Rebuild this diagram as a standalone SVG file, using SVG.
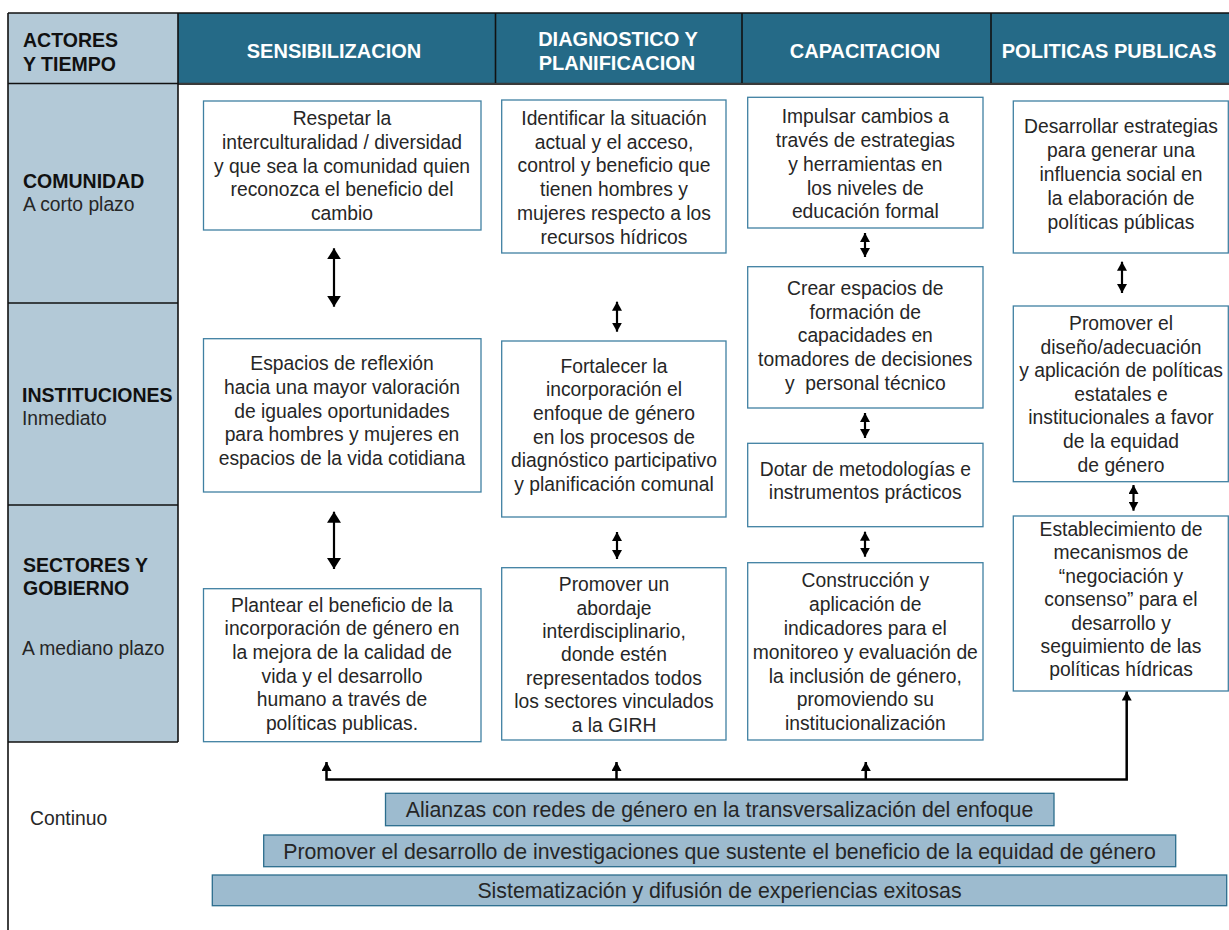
<svg xmlns="http://www.w3.org/2000/svg" width="1229" height="930" viewBox="0 0 1229 930">
<style>
text { font-family: "Liberation Sans", Arial, Helvetica, sans-serif; }
.hdr { font-size: 20px; font-weight: bold; fill: #ffffff; text-anchor: middle; }
.lbl { font-size: 19.5px; font-weight: bold; fill: #111111; }
.sub { font-size: 19.3px; fill: #262626; }
.t { font-size: 19.3px; fill: #262626; text-anchor: middle; }
.bt { font-size: 21.3px; fill: #262626; text-anchor: middle; }
.box { fill: #ffffff; stroke: #3f80a2; stroke-width: 1.3; }
.bar { fill: #9dbbcf; stroke: #2b6d8d; stroke-width: 1.3; }
.grid { stroke: #111111; stroke-width: 1.6; fill: none; }
.arr { stroke: #000000; stroke-width: 2.2; fill: none; }
.sm { marker-start: url(#ahs); marker-end: url(#ahs); }
.lg { marker-start: url(#ahl); marker-end: url(#ahl); }
.con { stroke: #000000; stroke-width: 2.5; fill: none; }
</style>
<defs>
<marker id="ahs" viewBox="0 0 9 10" refX="9" refY="5" markerUnits="userSpaceOnUse" markerWidth="9" markerHeight="10" orient="auto-start-reverse"><path d="M0,0 L9,5 L0,10 z" fill="#000"/></marker>
<marker id="ahl" viewBox="0 0 11 14" refX="11" refY="7" markerUnits="userSpaceOnUse" markerWidth="11" markerHeight="14" orient="auto-start-reverse"><path d="M0,0 L11,7 L0,14 z" fill="#000"/></marker>
</defs>
<rect width="1229" height="930" fill="#ffffff"/>

<g id="frame">
<rect x="8" y="13" width="170" height="729" fill="#b3c9d7"/>
<rect x="178" y="13" width="1051" height="70.5" fill="#256a87"/>
<line x1="178" y1="83.8" x2="1229" y2="83.8" stroke="#3a3a3a" stroke-width="2.2"/>
<line class="grid" x1="8" y1="13" x2="1229" y2="13"/>
<line class="grid" x1="8" y1="13" x2="8" y2="930"/>
<line class="grid" x1="178" y1="13" x2="178" y2="742"/>
<line class="grid" x1="495.5" y1="13" x2="495.5" y2="83"/>
<line class="grid" x1="742" y1="13" x2="742" y2="83"/>
<line class="grid" x1="991" y1="13" x2="991" y2="83"/>
<line class="grid" x1="8" y1="83.5" x2="178" y2="83.5"/>
<line class="grid" x1="8" y1="303" x2="178" y2="303"/>
<line class="grid" x1="8" y1="505" x2="178" y2="505"/>
<line class="grid" x1="8" y1="742" x2="178" y2="742"/>
</g>

<g id="header-actores"><text class="lbl" x="23" y="47">ACTORES</text><text class="lbl" x="23" y="71">Y TIEMPO</text></g>
<g id="header-sensibilizacion"><text class="hdr" x="334" y="58">SENSIBILIZACION</text></g>
<g id="header-diagnostico"><text class="hdr" x="618" y="46">DIAGNOSTICO Y</text><text class="hdr" x="617" y="70">PLANIFICACION</text></g>
<g id="header-capacitacion"><text class="hdr" x="865" y="57.5">CAPACITACION</text></g>
<g id="header-politicas"><text class="hdr" x="1109" y="57.5">POLITICAS PUBLICAS</text></g>

<g id="row-comunidad"><text class="lbl" x="23" y="188">COMUNIDAD</text><text class="sub" x="23" y="211">A corto plazo</text></g>
<g id="row-instituciones"><text class="lbl" x="22" y="401.5">INSTITUCIONES</text><text class="sub" x="22" y="425">Inmediato</text></g>
<g id="row-sectores"><text class="lbl" x="23" y="571.5">SECTORES Y</text><text class="lbl" x="23" y="595">GOBIERNO</text><text class="sub" x="22" y="655">A mediano plazo</text></g>
<g id="row-continuo"><text class="sub" x="30" y="825">Continuo</text></g>

<g id="s1">
<rect class="box" x="203.5" y="101" width="277.5" height="129"/>
<text class="t"><tspan x="342" y="125.3">Respetar la</tspan><tspan x="342" y="149">interculturalidad / diversidad</tspan><tspan x="342" y="172.7">y que sea la comunidad quien</tspan><tspan x="342" y="196.4">reconozca el beneficio del</tspan><tspan x="342" y="220">cambio</tspan></text>
</g>
<g id="s2">
<rect class="box" x="203.5" y="338.7" width="277.5" height="153.3"/>
<text class="t"><tspan x="342" y="370">Espacios de reflexión</tspan><tspan x="342" y="393.75">hacia una mayor valoración</tspan><tspan x="342" y="417.5">de iguales oportunidades</tspan><tspan x="342" y="441.25">para hombres y mujeres en</tspan><tspan x="342" y="465">espacios de la vida cotidiana</tspan></text>
</g>
<g id="s3">
<rect class="box" x="203.5" y="588.7" width="277.5" height="153"/>
<text class="t"><tspan x="342" y="611.7">Plantear el beneficio de la</tspan><tspan x="342" y="635.4">incorporación de género en</tspan><tspan x="342" y="659">la mejora de la calidad de</tspan><tspan x="342" y="682.7">vida y el desarrollo</tspan><tspan x="342" y="706.3">humano a través de</tspan><tspan x="342" y="730">políticas publicas.</tspan></text>
</g>

<g id="d1">
<rect class="box" x="501.7" y="100" width="224.3" height="153"/>
<text class="t"><tspan x="614" y="125">Identificar la situación</tspan><tspan x="614" y="148.7">actual y el acceso,</tspan><tspan x="614" y="172.4">control y beneficio que</tspan><tspan x="614" y="196.1">tienen hombres y</tspan><tspan x="614" y="219.8">mujeres respecto a los</tspan><tspan x="614" y="243.5">recursos hídricos</tspan></text>
</g>
<g id="d2">
<rect class="box" x="501.7" y="341" width="224.3" height="176"/>
<text class="t"><tspan x="614" y="372.7">Fortalecer la</tspan><tspan x="614" y="396.3">incorporación el</tspan><tspan x="614" y="419.9">enfoque de género</tspan><tspan x="614" y="443.5">en los procesos de</tspan><tspan x="614" y="467.1">diagnóstico participativo</tspan><tspan x="614" y="490.7">y planificación comunal</tspan></text>
</g>
<g id="d3">
<rect class="box" x="501.7" y="567.7" width="224.3" height="172.3"/>
<text class="t"><tspan x="614" y="591">Promover un</tspan><tspan x="614" y="614.5">abordaje</tspan><tspan x="614" y="638">interdisciplinario,</tspan><tspan x="614" y="661.4">donde estén</tspan><tspan x="614" y="684.8">representados todos</tspan><tspan x="614" y="708.3">los sectores vinculados</tspan><tspan x="614" y="731.7">a la GIRH</tspan></text>
</g>

<g id="c1">
<rect class="box" x="747.7" y="97.3" width="235.3" height="130.7"/>
<text class="t"><tspan x="865.3" y="123.3">Impulsar cambios a</tspan><tspan x="865.3" y="147">través de estrategias</tspan><tspan x="865.3" y="170.8">y herramientas en</tspan><tspan x="865.3" y="194.5">los niveles de</tspan><tspan x="865.3" y="218.3">educación formal</tspan></text>
</g>
<g id="c2">
<rect class="box" x="747.7" y="266.7" width="235.3" height="141.3"/>
<text class="t"><tspan x="865.3" y="295">Crear espacios de</tspan><tspan x="865.3" y="318.7">formación de</tspan><tspan x="865.3" y="342.4">capacidades en</tspan><tspan x="865.3" y="366">tomadores de decisiones</tspan><tspan x="865.3" y="389.8">y&#160; personal técnico</tspan></text>
</g>
<g id="c3">
<rect class="box" x="747.7" y="443.3" width="235.3" height="83.4"/>
<text class="t"><tspan x="865.3" y="476">Dotar de metodologías e</tspan><tspan x="865.3" y="499.3">instrumentos prácticos</tspan></text>
</g>
<g id="c4">
<rect class="box" x="747.7" y="562.7" width="235.3" height="177.3"/>
<text class="t"><tspan x="865.3" y="587.3">Construcción y</tspan><tspan x="865.3" y="611.1">aplicación de</tspan><tspan x="865.3" y="634.9">indicadores para el</tspan><tspan x="865.3" y="658.7">monitoreo y evaluación de</tspan><tspan x="865.3" y="682.5">la inclusión de género,</tspan><tspan x="865.3" y="706.3">promoviendo su</tspan><tspan x="865.3" y="730">institucionalización</tspan></text>
</g>

<g id="p1">
<rect class="box" x="1013.3" y="101" width="215" height="152"/>
<text class="t"><tspan x="1121" y="133.3">Desarrollar estrategias</tspan><tspan x="1121" y="157.2">para generar una</tspan><tspan x="1121" y="181.1">influencia social en</tspan><tspan x="1121" y="205">la elaboración de</tspan><tspan x="1121" y="229">políticas públicas</tspan></text>
</g>
<g id="p2">
<rect class="box" x="1013.3" y="306" width="215" height="175.7"/>
<text class="t"><tspan x="1121" y="330">Promover el</tspan><tspan x="1121" y="353.6">diseño/adecuación</tspan><tspan x="1121" y="377.2">y aplicación de políticas</tspan><tspan x="1121" y="400.8">estatales e</tspan><tspan x="1121" y="424.4">institucionales a favor</tspan><tspan x="1121" y="448">de la equidad</tspan><tspan x="1121" y="471.7">de género</tspan></text>
</g>
<g id="p3">
<rect class="box" x="1013.3" y="516" width="215" height="175"/>
<text class="t"><tspan x="1121" y="536">Establecimiento de</tspan><tspan x="1121" y="559.4">mecanismos de</tspan><tspan x="1121" y="582.8">“negociación y</tspan><tspan x="1121" y="606.2">consenso” para el</tspan><tspan x="1121" y="629.6">desarrollo y</tspan><tspan x="1121" y="653">seguimiento de las</tspan><tspan x="1121" y="676.4">políticas hídricas</tspan></text>
</g>

<g id="bar-alianzas">
<rect class="bar" x="385.5" y="793.3" width="668.5" height="32.4"/>
<text class="bt" x="719.5" y="816.5">Alianzas con redes de género en la transversalización del enfoque</text>
</g>
<g id="bar-investigaciones">
<rect class="bar" x="263.7" y="835" width="912" height="31.7"/>
<text class="bt" x="719.5" y="858.8">Promover el desarrollo de investigaciones que sustente el beneficio de la equidad de género</text>
</g>
<g id="bar-sistematizacion">
<rect class="bar" x="212.3" y="875" width="1014.4" height="30.7"/>
<text class="bt" x="719.5" y="897.5">Sistematización y difusión de experiencias exitosas</text>
</g>

<g id="connectors">
<line class="arr lg" x1="334" y1="248.3" x2="334" y2="306.7"/>
<line class="arr lg" x1="334" y1="511.7" x2="334" y2="569"/>
<line class="arr sm" x1="617" y1="301.7" x2="617" y2="331.7"/>
<line class="arr sm" x1="617" y1="532" x2="617" y2="559"/>
<line class="arr sm" x1="865" y1="233" x2="865" y2="257"/>
<line class="arr sm" x1="865" y1="413" x2="865" y2="438"/>
<line class="arr sm" x1="865" y1="531.7" x2="865" y2="556.7"/>
<line class="arr sm" x1="1122" y1="261.7" x2="1122" y2="293"/>
<line class="arr sm" x1="1133.5" y1="485" x2="1133.5" y2="510.7"/>
<path class="con" d="M326.5,762 L326.5,779.5 L1126.7,779.5 L1126.7,691.5" marker-start="url(#ahs)" marker-end="url(#ahs)"/>
<line class="con" x1="616.5" y1="779.5" x2="616.5" y2="762" marker-end="url(#ahs)"/>
<line class="con" x1="865.8" y1="779.5" x2="865.8" y2="762" marker-end="url(#ahs)"/>
</g>
</svg>
